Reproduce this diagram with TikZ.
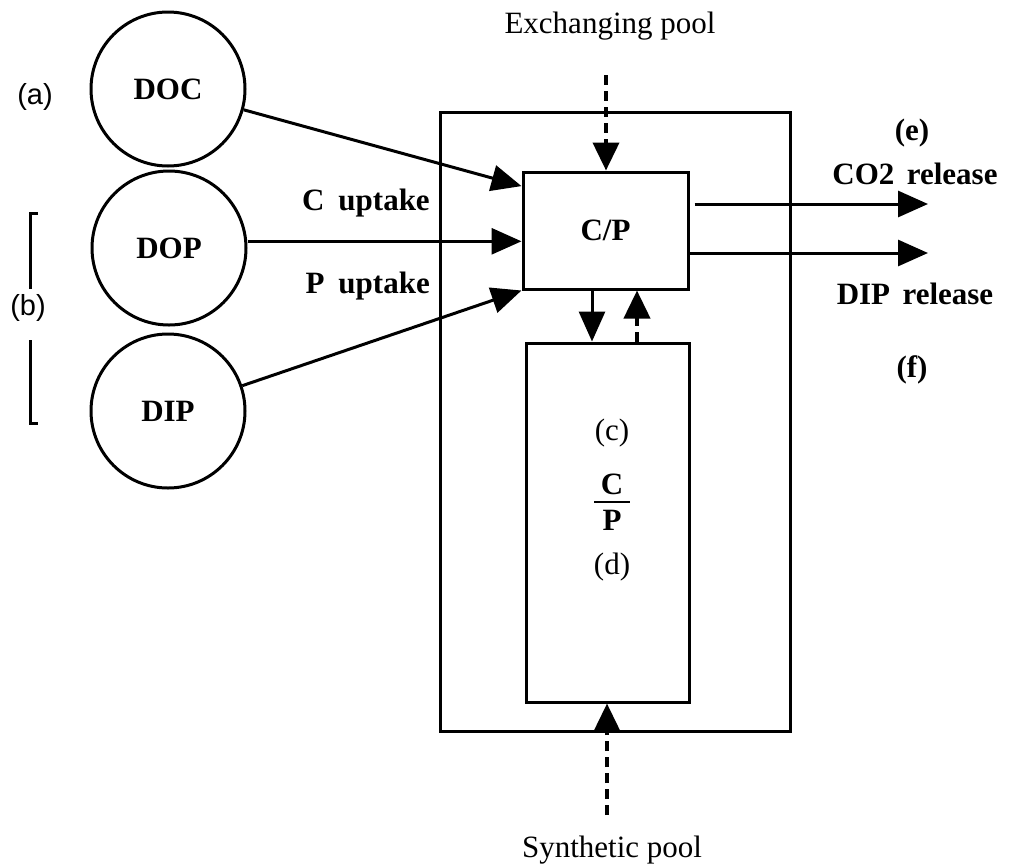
\documentclass[tikz,border=0pt]{standalone}
\usepackage{fontspec}
\setmainfont{Liberation Serif}
\newfontfamily\labsans{Liberation Sans}
\usetikzlibrary{arrows.meta,calc}
\begin{document}
\begin{tikzpicture}[x=1pt,y=-1pt,
  pool/.style={circle,draw,line width=3pt,minimum size=154pt,inner sep=0pt,font=\fontsize{31}{31}\selectfont\bfseries},
  box/.style={draw,line width=3pt,inner sep=0pt},
  blbl/.style={font=\fontsize{31}{31}\selectfont\bfseries,inner sep=0pt},
  rlbl/.style={font=\fontsize{31}{31}\selectfont,inner sep=0pt},
  slbl/.style={font=\labsans\fontsize{29}{29}\selectfont,inner sep=0pt},
  arr/.style={line width=3pt,-{Triangle[length=30pt,width=26pt]}},
  darr/.style={line width=4pt,dash pattern=on 10pt off 6pt,-{Triangle[length=28pt,width=26pt]}}
]
\useasboundingbox (0,0) rectangle (1011,865);

% pools
\node[pool] (doc) at (168,89) {DOC};
\node[pool] (dop) at (169,248) {DOP};
\node[pool] (dip) at (168,411) {DIP};

% boxes
\node[box,minimum width=350pt,minimum height=619pt] (outer) at (615,421.5) {};
\node[box,minimum width=165pt,minimum height=117pt,font=\fontsize{31}{31}\selectfont\bfseries] (cp) at (605.5,230.5) {C/P};
\node[box,minimum width=163pt,minimum height=359pt] (store) at (607.5,522.5) {};

% side labels
\node[slbl] (la) at (35,97) {(a)};
\node[slbl] (lb) at (28,308) {(b)};
\draw[line width=3pt] (38,213) -| (30,289);
\draw[line width=3pt] (30,340) |- (38,423);

\node[blbl,anchor=base east] (cup) at (430,210) {C\hspace{0.45em}uptake};
\node[blbl,anchor=base east] (pup) at (430,293) {P\hspace{0.45em}uptake};

% uptake arrows
\coordinate (tA) at ($(cp.north west)!0.13!(cp.south west)$);
\coordinate (tB) at ($(cp.north west)!0.59!(cp.south west)$);
\draw[arr] (doc) -- (tA);
\draw[arr] (dop.east |- tB) -- (tB);
\draw[arr] (dip) -- (cp.south west);

% pools top and bottom
\node[rlbl,anchor=base] (exch) at (610,33) {Exchanging pool};
\node[rlbl,anchor=base] (synt) at (612,857) {Synthetic pool};
\coordinate (exs) at (606,75);
\draw[darr] (exs) -- (cp.north -| exs);
\coordinate (sys) at (607,815);
\draw[darr] (sys) -- (store.south -| sys);

% exchange between C/P and store
\coordinate (dnx) at (592,300);
\coordinate (upx) at (637,300);
\draw[arr] (cp.south -| dnx) -- (store.north -| dnx);
\draw[darr] (store.north -| upx) -- (cp.south -| upx);

% store labels
\node[rlbl] (lc) at (612,433) {(c)};
\node[blbl] (fc) at (612,484) {C};
\node[blbl] (fp) at (612,520) {P};
\draw[line width=2.5pt] ($(fc.south)!0.5!(fp.north)+(-18,0)$) -- ++(36,0);
\node[rlbl] (ld) at (612,567) {(d)};

% releases
\coordinate (co2e) at (928,204);
\coordinate (dipe) at (928,253);
\draw[arr] ($(cp.east |- co2e)+(5,0)$) -- (co2e);
\draw[arr] (cp.east |- dipe) -- (dipe);
\node[blbl] (le) at (912,133) {(e)};
\node[blbl,anchor=base] (co2l) at (915,184) {CO2\hspace{0.4em}release};
\node[blbl,anchor=base] (dipl) at (915,304) {DIP\hspace{0.4em}release};
\node[blbl] (lf) at (912,370) {(f)};
\end{tikzpicture}
\end{document}
